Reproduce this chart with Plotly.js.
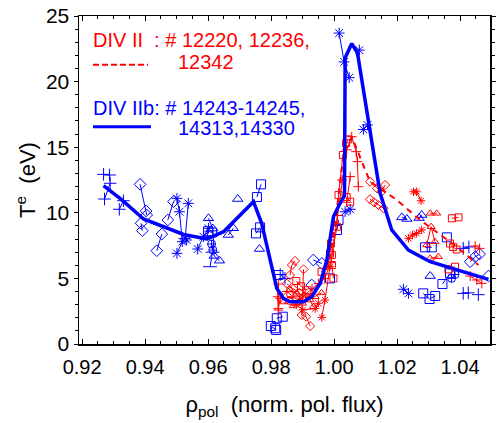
<!DOCTYPE html>
<html><head><meta charset="utf-8">
<script src="https://cdn.plot.ly/plotly-3.0.1.min.js"></script>
<style>body{margin:0;background:#fff}#c{width:497px;height:423px}</style>
</head><body><div id="c"></div>
<script>
// ---- fitted profiles ----
var blueFitX = [0.9268,0.9326,0.9395,0.9469,0.9522,0.9596,0.9649,0.9744,0.9770,0.9818,0.9839,0.9860,0.9903,0.9929,0.9956,0.9977,0.9998,1.0014,1.0033,1.0035,1.0056,1.0074,1.0114,1.0146,1.0183,1.0236,1.0305,1.0389,1.0490];
var blueFitY = [12.07,10.98,9.53,8.81,8.35,8.0,8.56,10.85,9.2,4.24,3.48,3.22,3.22,3.6,4.62,6.4,9.7,10.5,11.3,21.8,22.9,22.2,16.06,11.5,8.69,7.16,6.27,5.64,4.93];
var redFitX = [0.9820,0.9850,0.9880,0.9910,0.9940,0.9970,0.9990,1.0010,1.0030,1.0056,1.0114,1.0199,1.0273,1.0389,1.0458];
var redFitY = [4.0,3.6,3.4,3.5,4.0,5.2,7.0,10.5,14.5,15.8,12.37,10.98,9.45,7.42,6.02];

// ---- DIV IIb measurements (blue), strands separated by null ----
var bPlusX = [0.9268,0.9287,null,0.9271,0.9289,null,0.9318,0.9331,null,0.9829,0.9844,null,1.0410,1.0426,null,1.0458,null,1.0410,1.0428];
var bPlusY = [12.93,12.88,null,11.05,12.25,null,10.27,10.92,null,5.3,5.0,null,3.86,3.9,null,3.76,null,7.29,7.4];
var bDiaX = [0.9384,0.9403,0.9405,null,0.9387,0.9391,null,0.9437,0.9453,null,0.9472,0.9490,null,0.9929,null,0.9934,0.9961,null,1.0432,1.0448,1.0462,null,1.0490];
var bDiaY = [12.17,10.14,9.83,null,9.2,8.64,null,7.11,8.38,null,9.45,10.85,null,4.5,null,6.4,6.14,null,6.27,6.65,6.86,null,5.18];
var bStarX = [0.9501,0.9509,0.9518,0.9501,null,0.9537,0.9527,0.9532,null,0.9567,0.9585,0.9601,null,1.0016,1.0032,1.0048,null,1.0080,null,1.0093,1.0106,null,1.0035,1.0051,null,1.0220,1.0236];
var bStarY = [11.1,10.08,7.8,6.91,null,10.72,8.05,7.93,null,7.24,8.18,8.82,null,23.7,21.5,20.3,null,22.4,null,16.35,16.7,null,10.08,10.27,null,4.17,3.86];
var bTriX = [0.9601,0.9615,0.9619,0.9636,null,0.9664,0.9680,null,0.9694,null,0.9763,null,1.0215,1.0231,null,1.0270,1.0278,null,1.0305];
var bTriY = [9.58,8.8,6.71,6.35,null,8.31,8.82,null,11.05,null,7.24,null,9.65,9.53,null,9.6,9.83,null,5.18];
var bSqX = [0.9755,0.9768,null,0.9752,0.9765,null,0.9823,null,0.9818,0.9837,null,0.9799,0.9816,0.9813,null,0.9987,null,1.0009,1.0014,null,1.0289,1.0310,null,1.0358,null,1.0344,1.0368,null,1.0283,1.0303,1.0321,null,0.9600,0.9612];
var bSqY = [11.2,12.17,null,8.43,8.89,null,5.26,null,1.96,2.08,null,1.37,1.07,1.2,null,5.0,null,8.69,9.45,null,7.37,7.37,null,8.13,null,4.57,5.39,null,3.86,3.43,3.66,null,8.6,8.5];
var bCircX = [0.9611,0.9615,null,1.0373,1.0384];
var bCircY = [7.62,7.16,null,5.0,5.3];
var bBarX = [0.9606,0.9614];
var bBarY = [5.89,7.0];

// ---- DIV II measurements (red) ----
var rPlusX = [0.9821,0.9823,0.9829,0.9850,0.9870,0.9890,0.9910,0.9930,0.9950,0.9970,0.9990,1.0010,1.0025,1.0040,1.0056,1.0070,1.0074,1.0077,null,1.0051,1.0040,null,0.9823,0.9823,null,1.0448,1.0462,null,1.0432,1.0453,1.0469];
var rPlusY = [3.6,2.71,3.48,4.0,3.6,3.3,3.8,4.2,4.6,5.0,6.2,9.8,12.5,14.8,15.8,14.66,13.9,11.99,null,12.76,10.8,null,4.57,2.59,null,7.47,7.29,null,5.18,4.88,4.62];
var rSqX = [0.9960,0.9993,1.0009,1.0014,1.0028,1.0038,1.0045,null,1.0040,1.0051,null,0.9987,0.9990,null,0.9993,0.9998,null,0.9880,0.9895,0.9915,null,1.0374,1.0395,null,1.0368,1.0378,1.0389,null,1.0363,1.0384];
var rSqY = [5.5,6.78,8.94,11.36,14.41,15.3,15.6,null,11.2,10.85,null,6.9,7.66,null,6.02,5.0,null,4.8,4.4,4.1,null,9.58,9.65,null,7.66,7.4,7.2,null,5.69,5.89];
var rDiaX = [0.9860,0.9866,0.9876,null,0.9903,0.9897,0.9911,0.9924,null,0.9850,0.9870,0.9890,null,1.0114,1.0136,1.0150,1.0162,null,1.0114,1.0127,1.0141,1.0157];
var rDiaY = [5.26,6.02,6.33,null,5.69,2.21,2.08,1.37,null,4.6,4.2,3.9,null,12.37,11.87,11.6,12.12,null,11.03,10.8,10.59,10.34];
var rStarX = [0.9961,0.9971,0.9987,null,0.9880,0.9900,0.9940,0.9950,null,1.0252,1.0262,1.0276,null,1.0236,1.0249,1.0262,1.0278];
var rStarY = [2.03,3.35,5.89,null,3.0,2.6,2.7,3.1,null,11.6,11.6,10.92,null,8.05,8.3,8.43,8.69];
var rTriX = [0.9860,0.9882,0.9905,0.9924,0.9934,null,0.9840,0.9870,0.9900,0.9940,0.9960,null,1.0305,1.0326,null,1.0294,1.0308,1.0320,null,1.0305,1.0331];
var rTriY = [4.12,3.86,3.7,3.35,2.84,null,3.2,2.9,3.1,3.6,3.9,null,9.96,9.96,null,7.55,8.94,7.8,null,6.53,6.65];

// ---- axis ticks ----
var xTickVals = [0.92,0.94,0.96,0.98,1.00,1.02,1.04];
var xTickText = ['0.92','0.94','0.96','0.98','1.00','1.02','1.04'];
var yTickVals = [0,5,10,15,20,25];
var yTickText = ['0','5','10','15','20','25'];

var BLUE='rgb(0,0,255)', RED='rgb(255,0,0)';
function pts(x,y,color,symbol,size){
  return {x:x,y:y,type:'scatter',mode:'lines+markers',connectgaps:false,
    line:{color:color,width:1},
    marker:{symbol:symbol,size:size,color:color,line:{color:color,width:1}},
    hoverinfo:'skip',showlegend:false};
}
var data = [
  pts(bPlusX,bPlusY,BLUE,'cross-thin-open',9),
  pts(bDiaX,bDiaY,BLUE,'diamond-open',9),
  pts(bStarX,bStarY,BLUE,'asterisk-open',9),
  pts(bTriX,bTriY,BLUE,'triangle-up-open',9),
  pts(bSqX,bSqY,BLUE,'square-open',9),
  pts(bCircX,bCircY,BLUE,'circle-cross-open',8),
  pts(bBarX,bBarY,BLUE,'line-ew-open',10),
  pts(rPlusX,rPlusY,RED,'cross-thin-open',7),
  pts(rSqX,rSqY,RED,'square-open',7),
  pts(rDiaX,rDiaY,RED,'diamond-open',7),
  pts(rStarX,rStarY,RED,'asterisk-open',7),
  pts(rTriX,rTriY,RED,'triangle-up-open',7),
  {x:redFitX,y:redFitY,type:'scatter',mode:'lines',line:{color:RED,width:2,dash:'6px,5px'},hoverinfo:'skip',showlegend:false},
  {x:blueFitX,y:blueFitY,type:'scatter',mode:'lines',line:{color:BLUE,width:3.5},hoverinfo:'skip',showlegend:false}
];

var FONT = 'Liberation Sans, Arial, Helvetica, sans-serif';
var layout = {
  width:497,height:423,
  margin:{l:79,r:7,t:16,b:79},
  paper_bgcolor:'#fff',plot_bgcolor:'#fff',
  font:{family:FONT,color:'#000',size:20},
  showlegend:false,
  xaxis:{range:[0.919,1.0495],tickvals:xTickVals,ticktext:xTickText,
    showgrid:false,zeroline:false,showline:true,linecolor:'#000',linewidth:1.5,mirror:'ticks',
    ticks:'inside',ticklen:5,tickcolor:'#000',tickfont:{size:20,family:FONT},ticklabelstandoff:4,
    minor:{dtick:0.005,ticks:'inside',ticklen:3,tickcolor:'#000'},
    title:{text:'ρ<sub>pol</sub>  (norm. pol. flux)',font:{size:22,family:FONT},standoff:20},
    automargin:false},
  yaxis:{range:[0,25],tickvals:yTickVals,ticktext:yTickText,
    showgrid:false,zeroline:false,showline:true,linecolor:'#000',linewidth:1.5,mirror:'ticks',
    ticks:'outside',ticklen:4,tickcolor:'#000',tickfont:{size:21,family:FONT},
    minor:{dtick:1,ticks:'outside',ticklen:3,tickcolor:'#000'},
    title:{text:'T<sup>e</sup>  (eV)',font:{size:22,family:FONT},standoff:4},
    automargin:false},
  annotations:[
    {xref:'paper',yref:'paper',x:0.029,y:0.927,xanchor:'left',yanchor:'middle',showarrow:false,
     text:'DIV II  : # 12220, 12236,',font:{color:RED,size:20,family:FONT}},
    {xref:'paper',yref:'paper',x:0.236,y:0.860,xanchor:'left',yanchor:'middle',showarrow:false,
     text:'12342',font:{color:RED,size:20,family:FONT}},
    {xref:'paper',yref:'paper',x:0.029,y:0.720,xanchor:'left',yanchor:'middle',showarrow:false,
     text:'DIV IIb: # 14243-14245,',font:{color:BLUE,size:20,family:FONT}},
    {xref:'paper',yref:'paper',x:0.236,y:0.659,xanchor:'left',yanchor:'middle',showarrow:false,
     text:'14313,14330',font:{color:BLUE,size:20,family:FONT}}
  ],
  shapes:[
    {type:'line',xref:'paper',yref:'paper',x0:0.034,x1:0.168,y0:0.851,y1:0.851,line:{color:RED,width:2,dash:'6px,3px'}},
    {type:'line',xref:'paper',yref:'paper',x0:0.034,x1:0.175,y0:0.662,y1:0.662,line:{color:BLUE,width:3}}
  ]
};
Plotly.newPlot('c',data,layout,{staticPlot:true,displayModeBar:false});
</script></body></html>
